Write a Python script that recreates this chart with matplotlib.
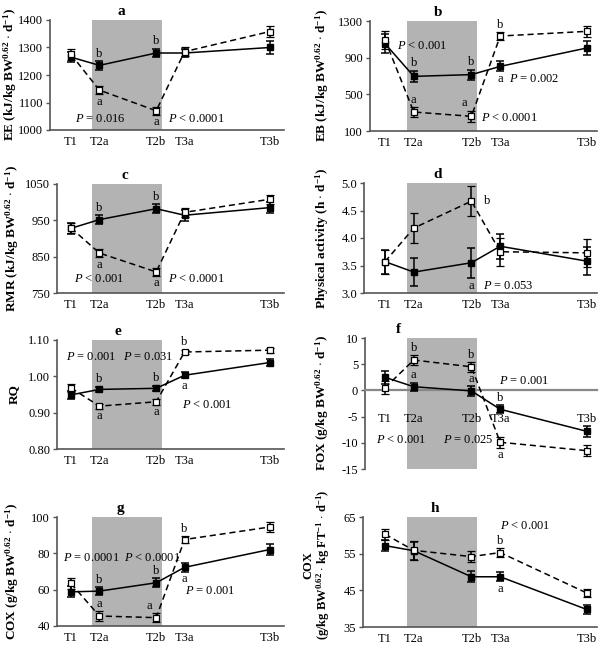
import numpy as np
import matplotlib
matplotlib.use("Agg")
import matplotlib.pyplot as plt

plt.rcParams["font.family"] = "Liberation Serif"
plt.rcParams["mathtext.fontset"] = "custom"
plt.rcParams["mathtext.rm"] = "Liberation Serif"
plt.rcParams["mathtext.it"] = "Liberation Serif:italic"
plt.rcParams["mathtext.bf"] = "Liberation Serif:bold"

W, H = 610, 649

# ---------------------------------------------------------------
# data (means and SE)
# ---------------------------------------------------------------
periods = ["T1", "T2a", "T2b", "T3a", "T3b"]
xpos = [0, 1, 3, 4, 7]

ee_filled = [1265, 1235, 1280, 1280, 1300]
ee_filled_se = [18, 15, 15, 15, 25]
ee_open = [1275, 1145, 1070, 1285, 1358]
ee_open_se = [20, 15, 15, 15, 20]

eb_filled = [1053, 696, 715, 805, 1005]
eb_filled_se = [100, 60, 55, 55, 80]
eb_open = [1096, 307, 260, 1136, 1187]
eb_open_se = [100, 55, 60, 40, 60]

rmr_filled = [928, 952, 982, 964, 985]
rmr_filled_se = [15, 12, 12, 15, 15]
rmr_open = [929, 860, 808, 972, 1008]
rmr_open_se = [15, 12, 10, 12, 12]

pa_filled = [3.57, 3.38, 3.55, 3.85, 3.58]
pa_filled_se = [0.22, 0.25, 0.27, 0.23, 0.25]
pa_open = [3.57, 4.18, 4.67, 3.75, 3.73]
pa_open_se = [0.22, 0.27, 0.27, 0.25, 0.25]

rq_filled = [0.949, 0.964, 0.967, 1.003, 1.038]
rq_filled_se = [0.012, 0.007, 0.007, 0.008, 0.01]
rq_open = [0.968, 0.918, 0.930, 1.067, 1.072]
rq_open_se = [0.012, 0.007, 0.008, 0.006, 0.007]

fox_filled = [2.5, 0.7, -0.1, -3.6, -7.8]
fox_filled_se = [1.2, 0.8, 0.9, 0.8, 1.1]
fox_open = [0.5, 5.8, 4.5, -9.9, -11.5]
fox_open_se = [1.2, 0.9, 0.9, 1.0, 1.0]

cox_filled = [58.8, 59.2, 63.8, 72.3, 82.1]
cox_filled_se = [3.0, 2.2, 2.5, 2.3, 3.0]
cox_open = [63.4, 45.5, 44.6, 87.6, 94.5]
cox_open_se = [3.0, 2.5, 2.5, 2.0, 2.8]

coxft_filled = [57.2, 55.8, 48.7, 48.7, 39.8]
coxft_filled_se = [1.5, 2.5, 1.5, 1.2, 1.2]
coxft_open = [60.3, 55.9, 54.2, 55.3, 44.3]
coxft_open_se = [1.5, 2.5, 1.5, 1.2, 1.2]

sup = r"$^{\mathbf{0.62}}$"
dm1 = r"$^{\mathbf{-1}}$"
dot = r"$\cdot$"

# letters: (period index, series, placement, letter)
panels = [
    dict(tag="a", tx=121, f=ee_filled, fe=ee_filled_se, o=ee_open, oe=ee_open_se,
         ylim=(1000, 1400), yticks=[1000, 1100, 1200, 1300, 1400], fmt="{:.0f}",
         ylabel="EE (kJ/kg BW" + sup + " " + dot + " d" + dm1 + ")",
         box=(50, 20, 284, 130), col=0, ylx=10, lfs=9.5,
         letters=[(1, "f", "up", "b"), (2, "f", "up", "b"), (1, "o", "dn", "a"), (2, "o", "dn", "a")],
         ptext=[(0.15, 1040, "=", "0.016"), (3.4, 1040, "<", "0.0001")]),
    dict(tag="b", tx=438, f=eb_filled, fe=eb_filled_se, o=eb_open, oe=eb_open_se,
         ylim=(100, 1300), yticks=[100, 500, 900, 1300], fmt="{:.0f}",
         ylabel="EB (kJ/kg BW" + sup + " " + dot + " d" + dm1 + ")",
         box=(370, 21, 597, 131), col=1, ylx=322, lfs=9.5,
         letters=[(1, "f", "up", "b"), (2, "f", "up", "b"), (1, "o", "up", "a"), (2, "o", "upl", "a"),
                  (3, "o", "up", "b"), (3, "f", "dn", "a")],
         ptext=[(0.42, 1030, "<", "0.001"), (4.3, 664, "=", "0.002"), (3.35, 245, "<", "0.0001")]),
    dict(tag="c", tx=125, f=rmr_filled, fe=rmr_filled_se, o=rmr_open, oe=rmr_open_se,
         ylim=(750, 1050), yticks=[750, 850, 950, 1050], fmt="{:.0f}",
         ylabel="RMR (kJ/kg BW" + sup + " " + dot + " d" + dm1 + ")",
         box=(57, 184, 284, 293), col=0, ylx=12, lfs=9.5,
         letters=[(1, "f", "up", "b"), (2, "f", "up", "b"), (1, "o", "dn", "a"), (2, "o", "dn", "a")],
         ptext=[(0.1, 788, "<", "0.001"), (3.4, 788, "<", "0.0001")]),
    dict(tag="d", tx=438, f=pa_filled, fe=pa_filled_se, o=pa_open, oe=pa_open_se,
         ylim=(3.0, 5.0), yticks=[3.0, 3.5, 4.0, 4.5, 5.0], fmt="{:.1f}",
         ylabel="Physical activity (h " + dot + " d" + dm1 + ")",
         box=(364, 183, 597, 293), col=1, ylx=322, lfs=9.5,
         letters=[(2, "o", "right", "b"), (2, "f", "bottom", "a")],
         ptext=[(3.4, 3.12, "=", "0.053")]),
    dict(tag="e", tx=118, f=rq_filled, fe=rq_filled_se, o=rq_open, oe=rq_open_se,
         ylim=(0.80, 1.10), yticks=[0.80, 0.90, 1.00, 1.10], fmt="{:.2f}",
         ylabel="RQ",
         box=(57, 340, 284, 449), col=0, ylx=14, lfs=9.5,
         letters=[(1, "f", "up", "b"), (2, "f", "up", "b"), (1, "o", "dn", "a"), (2, "o", "dn", "a"),
                  (3, "o", "up", "b"), (3, "f", "dn", "a")],
         ptext=[(-0.18, 1.054, "=", "0.001"), (1.84, 1.054, "=", "0.031"), (3.9, 0.92, "<", "0.001")]),
    dict(tag="f", tx=398, f=fox_filled, fe=fox_filled_se, o=fox_open, oe=fox_open_se,
         ylim=(-15, 10), yticks=[-15, -10, -5, 0, 5, 10], fmt="{:.0f}",
         ylabel="FOX (g/kg BW" + sup + " " + dot + " d" + dm1 + ")",
         box=(365, 338, 597, 469), col=1, ylx=322, lfs=9.5,
         letters=[(1, "o", "up", "b"), (2, "o", "up", "b"), (1, "f", "up", "a"), (2, "f", "up", "a"),
                  (3, "f", "up", "b"), (3, "o", "dn", "a")],
         ptext=[(3.95, 1.8, "=", "0.001"), (-0.3, -9.5, "<", "0.001"), (2.0, -9.5, "=", "0.025")]),
    dict(tag="g", tx=120, f=cox_filled, fe=cox_filled_se, o=cox_open, oe=cox_open_se,
         ylim=(40, 100), yticks=[40, 60, 80, 100], fmt="{:.0f}",
         ylabel="COX (g/kg BW" + sup + " " + dot + " d" + dm1 + ")",
         box=(57, 517, 284, 626), col=0, ylx=12, lfs=9.5,
         letters=[(1, "f", "up", "b"), (2, "f", "up", "b"), (1, "o", "up", "a"), (2, "o", "upl", "a"),
                  (3, "o", "up", "b"), (3, "f", "dn", "a")],
         ptext=[(-0.28, 77.7, "=", "0.0001"), (1.87, 77.7, "<", "0.0001"), (4.0, 59.2, "=", "0.001")]),
    dict(tag="h", tx=435, f=coxft_filled, fe=coxft_filled_se, o=coxft_open, oe=coxft_open_se,
         ylim=(35, 65), yticks=[35, 45, 55, 65], fmt="{:.0f}",
         ylabel="COX\n(g/kg BW" + sup + " " + dot + " kg FT" + dm1 + " " + dot + " d" + dm1 + ")",
         box=(363, 517, 597, 627), col=1, ylx=317, lfs=9, lyc=565,
         letters=[(3, "o", "up", "b"), (3, "f", "dn", "a")],
         ptext=[(4.0, 62.5, "<", "0.001")]),
]

col_map = {0: (71, 28.4), 1: (385, 28.8)}
shade = (0.75, 3.2)
axis_col = "#555555"

fig = plt.figure(figsize=(W / 100, H / 100), dpi=100)

for p in panels:
    l, t, r, b = p["box"]
    ax = fig.add_axes([l / W, 1 - b / H, (r - l) / W, (b - t) / H])
    if p["tag"] == "f":
        # x axis drawn along zero
        ax.spines["bottom"].set_position(("data", 0))
    x0, sc = col_map[p["col"]]
    ax.set_xlim((l - x0) / sc, (r - x0) / sc)
    ax.set_ylim(*p["ylim"])
    ax.axvspan(*shade, color="#b3b3b3", lw=0, zorder=0)

    ax.errorbar(xpos, p["f"], yerr=p["fe"], color="black", lw=1.1, ls="-",
                marker="s", ms=4.5, mfc="black", mec="black",
                capsize=3, elinewidth=1.1, capthick=1.1, zorder=3)
    ax.errorbar(xpos, p["o"], yerr=p["oe"], color="black", lw=1.1, ls=(0, (4, 2.5)),
                marker="s", ms=4.5, mfc="white", mec="black", mew=0.9,
                capsize=3, elinewidth=1.1, capthick=1.1, zorder=4)

    for s in ["top", "right"]:
        ax.spines[s].set_visible(False)
    for s in ["left", "bottom"]:
        ax.spines[s].set_color(axis_col)
        ax.spines[s].set_linewidth(1.2)

    ax.set_yticks(p["yticks"])
    ax.set_yticklabels([p["fmt"].format(v) for v in p["yticks"]], fontsize=9)
    ax.set_xticks(xpos)
    ax.set_xticklabels(periods, fontsize=9)
    ax.tick_params(axis="y", direction="out", length=3, width=1, color=axis_col, pad=2)
    ax.tick_params(axis="x", length=0, pad=4)

    if p["tag"] == "f":
        ax.spines["bottom"].set_color("#888888")
        ax.spines["bottom"].set_linewidth(1.6)
        ax.tick_params(axis="x", pad=16)

    fig.text(p["tx"] / W, 1 - (t - 2) / H, p["tag"], ha="center", va="bottom",
             fontsize=11, fontweight="bold")

    yc = p.get("lyc", (t + b) / 2)
    ax.text(p["ylx"] / W, 1 - yc / H, p["ylabel"], transform=fig.transFigure,
            rotation=90, ha="center", va="center", fontsize=p["lfs"], fontweight="bold",
            multialignment="center", linespacing=1.0)

    span = p["ylim"][1] - p["ylim"][0]
    for i, which, where, lab in p["letters"]:
        yv = p["f"][i] if which == "f" else p["o"][i]
        ye = p["fe"][i] if which == "f" else p["oe"][i]
        if where == "up":
            ax.annotate(lab, (xpos[i], yv + ye), xytext=(0, 1), textcoords="offset points",
                        ha="center", va="bottom", fontsize=9)
        elif where == "upl":
            ax.annotate(lab, (xpos[i], yv + ye), xytext=(-5, 1), textcoords="offset points",
                        ha="center", va="bottom", fontsize=9)
        elif where == "dn":
            ax.annotate(lab, (xpos[i], yv - ye), xytext=(0, -1), textcoords="offset points",
                        ha="center", va="top", fontsize=9)
        elif where == "right":
            ax.annotate(lab, (xpos[i], yv), xytext=(9, 0), textcoords="offset points",
                        ha="left", va="center", fontsize=9)
        else:
            ax.text(xpos[i], p["ylim"][0] + 0.06 * span, lab, ha="center", va="center", fontsize=9)

    for xt, yt, op, val in p["ptext"]:
        ax.text(xt, yt, r"$\mathit{P}$ " + op + " " + val, ha="left", va="center", fontsize=9)

fig.savefig("out.png", dpi=100)
